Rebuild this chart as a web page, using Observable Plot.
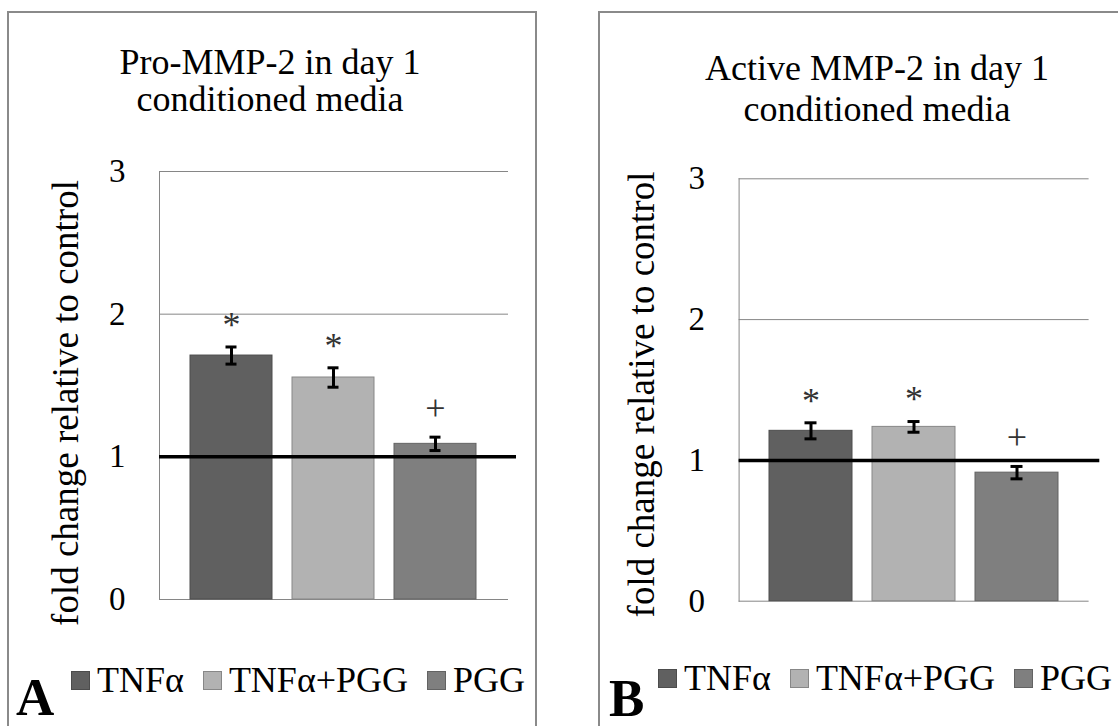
<!DOCTYPE html>
<html><head><meta charset="utf-8">
<script src="https://cdn.jsdelivr.net/npm/d3@7"></script>
<script src="https://cdn.jsdelivr.net/npm/@observablehq/plot@0.6"></script>
<style>
html,body{margin:0;padding:0;background:#fff;}
body{width:1118px;height:726px;overflow:hidden;position:relative;font-family:"Liberation Serif","Times New Roman",Tinos,serif;color:#000;}
.panel{position:absolute;box-sizing:border-box;border:2px solid #8a8a8a;}
.title{position:absolute;width:520px;text-align:center;font-size:36px;white-space:pre;}
.legend{position:absolute;display:flex;align-items:center;font-size:36px;line-height:36px;white-space:nowrap;}
.legend .item{display:flex;align-items:center;margin-right:19px;}
.legend .sw{width:19px;height:19px;box-sizing:border-box;border:1px solid;margin-right:7px;}
.letter{position:absolute;font-size:53px;font-weight:bold;line-height:53px;}
.chart{position:absolute;top:0;}
</style></head><body>
<script>
// ---- data ----
const categories = ["TNFα", "TNFα+PGG", "PGG"];
const proValues = [1.71, 1.556, 1.091];
const proErrors = [0.06, 0.068, 0.047];
const activeValues = [1.21, 1.238, 0.913];
const activeErrors = [0.057, 0.038, 0.044];
const significance = ["*", "*", "+"];
const yTicks = [0, 1, 2, 3];
const titles = ["Pro-MMP-2 in day 1\nconditioned media", "Active MMP-2 in day 1\nconditioned media"];
const panelLetters = ["A", "B"];
const yLabel = "fold change relative to control";

// ---- styles ----
const fills = ["#606060", "#b2b2b2", "#7f7f7f"];
const outlines = ["#4c4c4c", "#878787", "#636363"];
const FONT = '"Liberation Serif","Times New Roman",Tinos,serif';

// ---- layout ----
const layouts = [
  {border:{left:7, top:11, width:530, height:800}, svgLeft:0, width:560, ml:159, mr:52, mt:171, mb:127,
   labelDx:-93, labelDy:17.5, lineExt:-8, titleCenter:270, titleTop:44.4, titleLH:37,
   legendLeft:71, legendTop:662, letterLeft:16, letterTop:671},
  {border:{left:598, top:11, width:600, height:800}, svgLeft:560, width:558, ml:178.6, mr:29.4, mt:178.3, mb:125.3,
   labelDx:-96.8, labelDy:4.5, lineExt:-10.7, titleCenter:877, titleTop:48.4, titleLH:41,
   legendLeft:658, legendTop:660, letterLeft:609, letterTop:672.3}
];

function chart(values, errors, L) {
  const rows = categories.map((c, i) => ({group: c, value: values[i], lo: values[i] - errors[i], hi: values[i] + errors[i], sig: significance[i]}));
  return Plot.plot({
    width: L.width, height: 726,
    marginLeft: L.ml, marginRight: L.mr, marginTop: L.mt, marginBottom: L.mb,
    style: {background: "none", fontFamily: FONT, overflow: "visible"},
    x: {type: "band", domain: categories, paddingInner: 0.195, paddingOuter: 0.296, axis: null},
    y: {domain: [0, 3]},
    marks: [
      Plot.gridY(yTicks, {stroke: "#868686", strokeOpacity: 1, strokeWidth: 1}),
      Plot.frame({anchor: "left", stroke: "#868686", strokeWidth: 1}),
      Plot.axisY(yTicks, {tickSize: 0, tickPadding: 34, fontSize: 33, label: null, fill: "#000", tickFormat: d3.format("d")}),
      Plot.text([yLabel], {frameAnchor: "left", textAnchor: "middle", lineAnchor: "middle", rotate: -90, dx: L.labelDx, dy: L.labelDy, fontSize: 37, fill: "#000"}),
      Plot.barY(rows, {x: "group", y: "value", fill: (d, i) => fills[i], stroke: (d, i) => outlines[i], strokeWidth: 1}),
      Plot.ruleY([1], {stroke: "#000", strokeWidth: 3.5, insetRight: L.lineExt}),
      Plot.ruleX(rows, {x: "group", y1: "lo", y2: "hi", stroke: "#000", strokeWidth: 3}),
      Plot.tickY(rows, {x: "group", y: "lo", stroke: "#000", strokeWidth: 3, inset: 35.5}),
      Plot.tickY(rows, {x: "group", y: "hi", stroke: "#000", strokeWidth: 3, inset: 35.5}),
      Plot.text(rows.filter(d => d.sig === "*"), {x: "group", y: "hi", text: "sig", dy: -21.6, fontSize: 36, fill: "#333"}),
      Plot.text(rows.filter(d => d.sig === "+"), {x: "group", y: "hi", text: "sig", dy: -29, fontSize: 36, fill: "#333"})
    ]
  });
}

const series = [[proValues, proErrors], [activeValues, activeErrors]];
layouts.forEach((L, p) => {
  const border = document.createElement("div");
  border.className = "panel";
  Object.assign(border.style, {left: L.border.left + "px", top: L.border.top + "px", width: L.border.width + "px", height: L.border.height + "px"});
  document.body.appendChild(border);

  const svg = chart(series[p][0], series[p][1], L);
  svg.classList.add("chart");
  svg.style.left = L.svgLeft + "px";
  svg.style.position = "absolute";
  svg.style.top = "0px";
  document.body.appendChild(svg);

  const t = document.createElement("div");
  t.className = "title";
  t.textContent = titles[p];
  Object.assign(t.style, {left: (L.titleCenter - 260) + "px", top: L.titleTop + "px", lineHeight: L.titleLH + "px"});
  document.body.appendChild(t);

  const lg = document.createElement("div");
  lg.className = "legend";
  Object.assign(lg.style, {left: L.legendLeft + "px", top: L.legendTop + "px"});
  categories.forEach((c, i) => {
    const it = document.createElement("div");
    it.className = "item";
    const sw = document.createElement("span");
    sw.className = "sw";
    sw.style.background = fills[i];
    sw.style.borderColor = outlines[i];
    const lab = document.createElement("span");
    lab.textContent = c;
    it.appendChild(sw); it.appendChild(lab);
    lg.appendChild(it);
  });
  document.body.appendChild(lg);

  const letter = document.createElement("div");
  letter.className = "letter";
  letter.textContent = panelLetters[p];
  Object.assign(letter.style, {left: L.letterLeft + "px", top: L.letterTop + "px"});
  document.body.appendChild(letter);
});
</script>
</body></html>
